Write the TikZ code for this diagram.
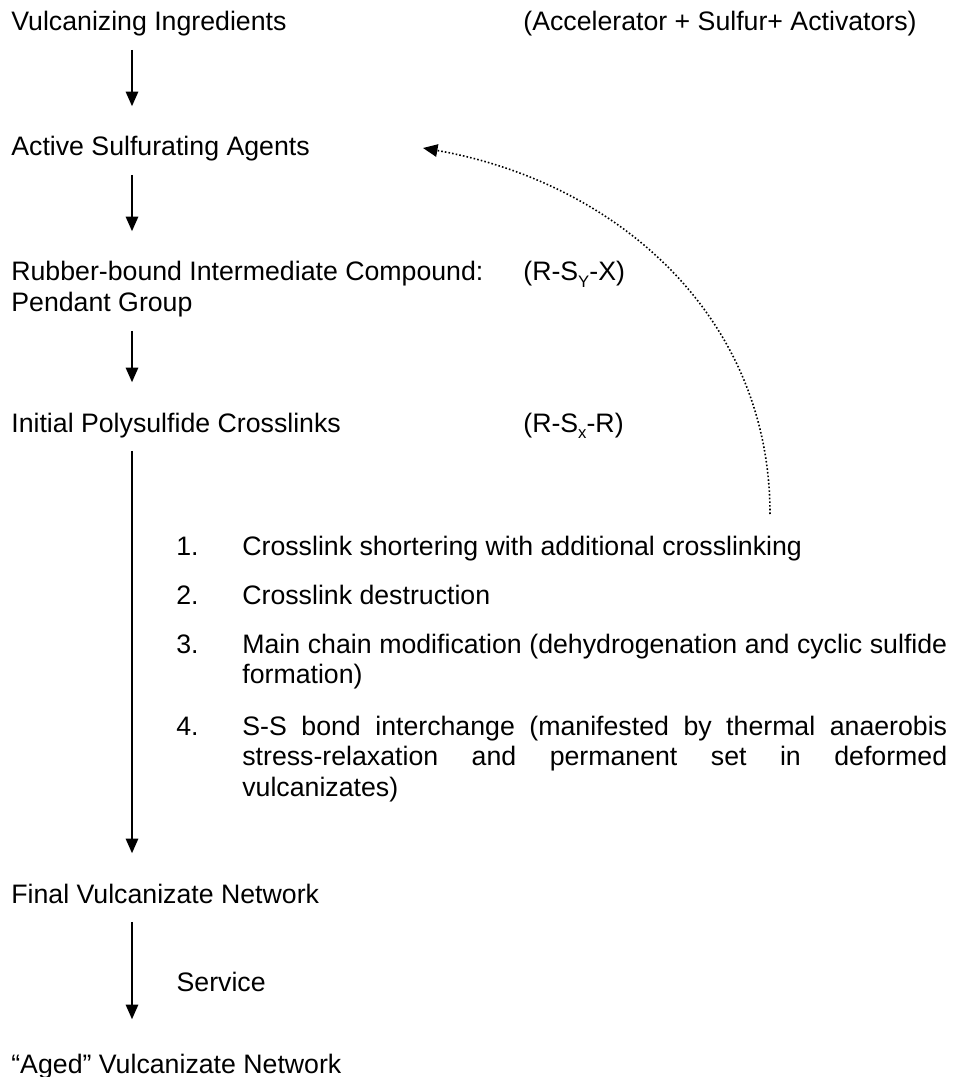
\documentclass[tikz,border=0pt]{standalone}
\usepackage{fontspec}
\setmainfont{Liberation Sans}
\usetikzlibrary{arrows.meta}
\hyphenpenalty=10000
\exhyphenpenalty=10000
\newcommand{\lowidx}[1]{\raisebox{-3.8pt}{\fontsize{9.5pt}{11pt}\selectfont #1}}
\tikzset{
  stage/.style={anchor=base west, inner sep=0pt, text height=0.39cm, text depth=0.112cm},
  step item/.style={anchor=base west, inner sep=0pt, text width=14.1cm, align=justify},
  flow/.style={line width=0.7pt, -{Triangle[length=0.29cm, width=0.25cm]}, shorten <=0.26cm, shorten >=0.6cm},
  loopback/.style={line width=0.9pt, dash pattern=on 0.9pt off 1.2pt, -{Triangle[length=0.29cm, width=0.25cm]}}
}
\begin{document}
\begin{tikzpicture}[x=0.02cm, y=-0.02cm, font=\fontsize{15.2pt}{17.6pt}\selectfont]
\useasboundingbox (0,0) rectangle (963,1077);

% Stages of the vulcanization
\node[stage] (ingr) at (11,31) {Vulcanizing Ingredients};%
\node[stage] (accel) at (523,31) {(Accelerator + Sulfur+ Activators)};%
\node[stage] (act) at (11,156) {Active Sulfurating Agents};%
\node[stage] (rub) at (11,281) {Rubber-bound Intermediate Compound:};%
\node[stage] (rsyx) at (523,281) {(R-S\lowidx{Y}-X)};%
\node[stage] (pend) at (11,312) {Pendant Group};%
\node[stage] (init) at (11,432) {Initial Polysulfide Crosslinks};%
\node[stage] (rsxr) at (523,432) {(R-S\lowidx{x}-R)};%
\node[stage] (final) at (11,903) {Final Vulcanizate Network};%
\node[stage] (aged) at (11,1073) {“Aged” Vulcanizate Network};%

% Numbered list of the reactions
\node[stage] (n1) at (176,555) {1.};%
\node[step item] (r1) at (242,555) {Crosslink shortering with additional crosslinking};%
\node[stage] (n2) at (176,604) {2.};%
\node[step item] (r2) at (242,604) {Crosslink destruction};%
\node[stage] (n3) at (176,653) {3.};%
\node[step item] (r3) at (242,653) {Main chain modification (dehydrogenation and cyclic sulfide\linebreak formation)};%
\node[stage] (n4) at (176,735) {4.};%
\node[step item] (r4) at (242,735) {S-S bond interchange (manifested by thermal anaerobis\linebreak stress-relaxation and permanent set in deformed\linebreak vulcanizates)};%

% Drawing arrows down the left column
\coordinate (col) at (132,0);
\draw[flow] (ingr.south -| col) -- (act.north -| col);%
\draw[flow] (act.south -| col) -- (rub.north -| col);%
\draw[flow] (pend.south -| col) -- (init.north -| col);%
\draw[flow] (init.south -| col) -- (final.north -| col);%
\draw[flow, shorten >=0.68cm] (final.south -| col) -- (aged.north -| col) node[stage, pos=0.5, xshift=0.88cm, yshift=-0.2cm] (serv) {Service};%

% Drawing dotted arrow back to the sulfurating agents
\coordinate (backfrom) at (770,514);
\coordinate (backto) at (423,148);
\draw[loopback] (backfrom) to[out=90, in=-10] (backto);%
\end{tikzpicture}
\end{document}
